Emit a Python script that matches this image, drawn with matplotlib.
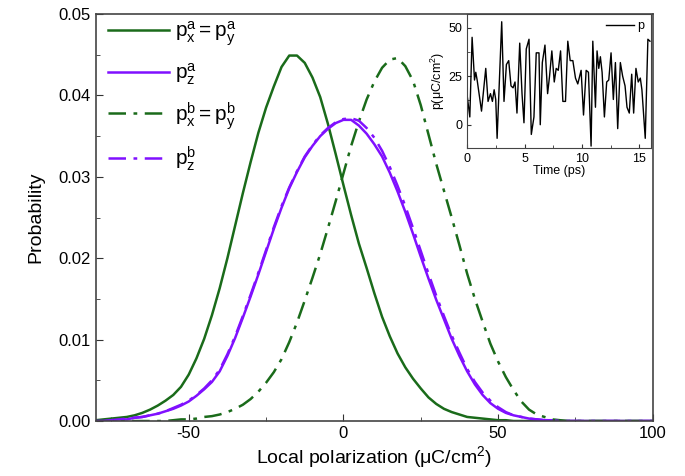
import matplotlib
matplotlib.use("Agg")
import matplotlib.pyplot as plt
from matplotlib.ticker import MultipleLocator, FormatStrFormatter

plt.rcParams['font.family'] = ['Liberation Sans', 'DejaVu Sans']
plt.rcParams['mathtext.fontset'] = 'custom'
plt.rcParams['mathtext.rm'] = 'Liberation Sans'
plt.rcParams['mathtext.it'] = 'Liberation Sans:italic'
plt.rcParams['axes.unicode_minus'] = False

# distributions (local polarization in uC/cm2)
pol = [-80, -77.5, -75, -72.5, -70, -67.5, -65, -62.5, -60, -57.5, -55, -52.5,
       -50, -47.5, -45, -42.5, -40, -37.5, -35, -32.5, -30, -27.5, -25, -22.5,
       -20, -17.5, -15, -12.5, -10, -7.5, -5, -2.5, 0, 2.5, 5, 7.5,
       10, 12.5, 15, 17.5, 20, 22.5, 25, 27.5, 30, 32.5, 35, 37.5,
       40, 42.5, 45, 47.5, 50, 52.5, 55, 57.5, 60, 62.5, 65, 67.5,
       70, 72.5, 75, 100]
pxy_a = [0.0001, 0.0002, 0.0003, 0.0004, 0.0005, 0.0007, 0.0010, 0.0014, 0.0019, 0.0025, 0.0032, 0.0042,
         0.0057, 0.0077, 0.0101, 0.0130, 0.0163, 0.0200, 0.0240, 0.0280, 0.0318, 0.0354, 0.0385, 0.0411,
         0.0435, 0.0449, 0.0449, 0.0440, 0.0422, 0.0398, 0.0365, 0.0328, 0.0290, 0.0253, 0.0218, 0.0188,
         0.0157, 0.0128, 0.0104, 0.0083, 0.0066, 0.0052, 0.0040, 0.0029, 0.0021, 0.0015, 0.0011, 0.0008,
         0.0005, 0.0004, 0.0003, 0.0002, 0.0001, 0.0001, 0.0, 0.0, 0.0, 0.0, 0.0, 0.0,
         0.0, 0.0, 0.0, 0.0]
pz_a = [0.0, 0.0, 0.0001, 0.0002, 0.0002, 0.0004, 0.0005, 0.0007, 0.0009, 0.0012, 0.0015, 0.0019,
        0.0024, 0.0031, 0.0039, 0.0048, 0.0061, 0.0080, 0.0102, 0.0127, 0.0153, 0.0180, 0.0208, 0.0236,
        0.0262, 0.0286, 0.0306, 0.0324, 0.0338, 0.0350, 0.0359, 0.0366, 0.0370, 0.0370, 0.0363, 0.0353,
        0.0340, 0.0325, 0.0305, 0.0282, 0.0257, 0.0230, 0.0202, 0.0175, 0.0149, 0.0125, 0.0101, 0.0080,
        0.0061, 0.0045, 0.0032, 0.0022, 0.0015, 0.0010, 0.0007, 0.0005, 0.0003, 0.0002, 0.0001, 0.0001,
        0.0, 0.0, 0.0, 0.0]
pxy_b = [0.0, 0.0, 0.0, 0.0, 0.0, 0.0, 0.0, 0.0, 0.0, 0.0, 0.0001, 0.0002,
         0.0002, 0.0003, 0.0005, 0.0006, 0.0008, 0.0011, 0.0015, 0.0020, 0.0027, 0.0036, 0.0047, 0.0060,
         0.0076, 0.0097, 0.0121, 0.0148, 0.0176, 0.0205, 0.0237, 0.0270, 0.0304, 0.0338, 0.0368, 0.0395,
         0.0417, 0.0434, 0.0444, 0.0446, 0.0436, 0.0418, 0.0388, 0.0352, 0.0316, 0.0283, 0.0250, 0.0216,
         0.0181, 0.0150, 0.0122, 0.0095, 0.0073, 0.0054, 0.0038, 0.0024, 0.0014, 0.0008, 0.0005, 0.0002,
         0.0001, 0.0, 0.0, 0.0]
pz_b = [0.0, 0.0, 0.0001, 0.0002, 0.0003, 0.0004, 0.0005, 0.0007, 0.0009, 0.0012, 0.0016, 0.0020,
        0.0025, 0.0032, 0.0040, 0.0050, 0.0063, 0.0082, 0.0104, 0.0129, 0.0155, 0.0182, 0.0210, 0.0238,
        0.0264, 0.0287, 0.0307, 0.0325, 0.0339, 0.0351, 0.0360, 0.0367, 0.0371, 0.0372, 0.0369, 0.0360,
        0.0348, 0.0332, 0.0312, 0.0289, 0.0264, 0.0237, 0.0209, 0.0181, 0.0154, 0.0129, 0.0105, 0.0084,
        0.0064, 0.0048, 0.0035, 0.0025, 0.0017, 0.0011, 0.0007, 0.0005, 0.0003, 0.0002, 0.0001, 0.0001,
        0.0, 0.0, 0.0, 0.0]

# inset: polarization vs time
time_ps = [0.00, 0.23, 0.43, 0.64, 0.75, 0.87, 1.25, 1.62, 1.82, 2.03, 2.20, 2.35, 2.49, 2.61,
           3.01, 3.21, 3.42, 3.62, 3.82, 4.00, 4.17, 4.34, 4.58, 4.78, 4.95, 5.15, 5.39, 5.59,
           5.82, 6.02, 6.26, 6.37, 6.55, 6.78, 7.01, 7.18, 7.38, 7.59, 7.76, 7.94, 8.14, 8.34,
           8.57, 8.77, 8.98, 9.21, 9.44, 9.64, 9.93, 10.14, 10.37, 10.57, 10.80, 10.95, 11.18,
           11.32, 11.47, 11.61, 11.76, 11.96, 12.16, 12.34, 12.54, 12.74, 12.92, 13.12, 13.35,
           13.55, 13.76, 13.93, 14.13, 14.34, 14.51, 14.71, 14.91, 15.09, 15.23, 15.52, 15.75,
           15.93]
p_t = [15, 4, 45, 23, 27, 23, 7, 29, 12, 16, 12, 18, 13, -7,
       53, 12, 31, 33, 20, 19, 22, 6, 42, 16, 1, 39, 44, -5,
       4, 37, 37, 0, 32, 41, 16, 25, 38, 22, 29, 28, 38, 12,
       12, 43, 33, 33, 24, 21, 28, 5, 28, 27, -11, 43, 9,
       38, 29, 35, 27, 4, 22, 23, 37, 13, 32, -2, 32,
       25, 20, 9, 6, 26, 6, 29, 22, 24, 18, -7, 44,
       43]

green = '#1a6b1a'
violet = '#8010ff'
dashdot = (0, (7, 3, 1.5, 3))

fig = plt.figure(figsize=(6.85, 4.76), dpi=100)
ax = fig.add_axes([0.140, 0.1155, 0.813, 0.855])

ax.plot(pol, pxy_a, color=green, lw=1.8, label=r'$\mathregular{p_x^a = p_y^a}$')
ax.plot(pol, pz_a, color=violet, lw=1.8, label=r'$\mathregular{p_z^a}$')
ax.plot(pol, pxy_b, color=green, lw=1.8, ls=dashdot, label=r'$\mathregular{p_x^b = p_y^b}$')
ax.plot(pol, pz_b, color=violet, lw=1.8, ls=dashdot, label=r'$\mathregular{p_z^b}$')

ax.set_xlim(-80, 100)
ax.set_ylim(0, 0.05)
ax.xaxis.set_major_locator(MultipleLocator(50))
ax.xaxis.set_minor_locator(MultipleLocator(25))
ax.yaxis.set_major_locator(MultipleLocator(0.01))
ax.yaxis.set_minor_locator(MultipleLocator(0.005))
ax.yaxis.set_major_formatter(FormatStrFormatter('%.2f'))
ax.tick_params(which='both', direction='in', labelsize=12, color='#333333')
ax.tick_params(which='major', length=5)
ax.tick_params(which='minor', length=3)
for s in ax.spines.values():
    s.set_color('#444444')
    s.set_linewidth(1.2)
ax.set_xlabel('Local polarization (μC/cm$^{2}$)', fontsize=14, labelpad=2)
ax.set_ylabel('Probability', fontsize=14, labelpad=10)
ax.legend(loc='upper left', frameon=False, fontsize=15, handlelength=2.9,
          labelspacing=0.62, borderaxespad=0.2, handletextpad=0.3,
          bbox_to_anchor=(0.0, 1.017))

ins = fig.add_axes([0.682, 0.689, 0.268, 0.2816])
ins.plot(time_ps, p_t, color='black', lw=1.0, label='p')
ins.set_xlim(0, 16)
ins.set_ylim(-12, 57)
ins.xaxis.set_major_locator(MultipleLocator(5))
ins.xaxis.set_minor_locator(MultipleLocator(2.5))
ins.yaxis.set_major_locator(MultipleLocator(25))
ins.yaxis.set_minor_locator(MultipleLocator(12.5))
ins.tick_params(which='both', direction='in', labelsize=9, color='#333333')
ins.tick_params(which='major', length=3)
ins.tick_params(which='minor', length=2)
for s in ins.spines.values():
    s.set_color('#444444')
ins.set_xlabel('Time (ps)', fontsize=9, labelpad=0)
ins.set_ylabel('p(μC/cm$^{2}$)', fontsize=9, labelpad=1)
ins.legend(loc='upper right', frameon=False, fontsize=9, handlelength=2.2,
           handletextpad=0.3, borderaxespad=0.1)

fig.savefig('out.png', dpi=100)
